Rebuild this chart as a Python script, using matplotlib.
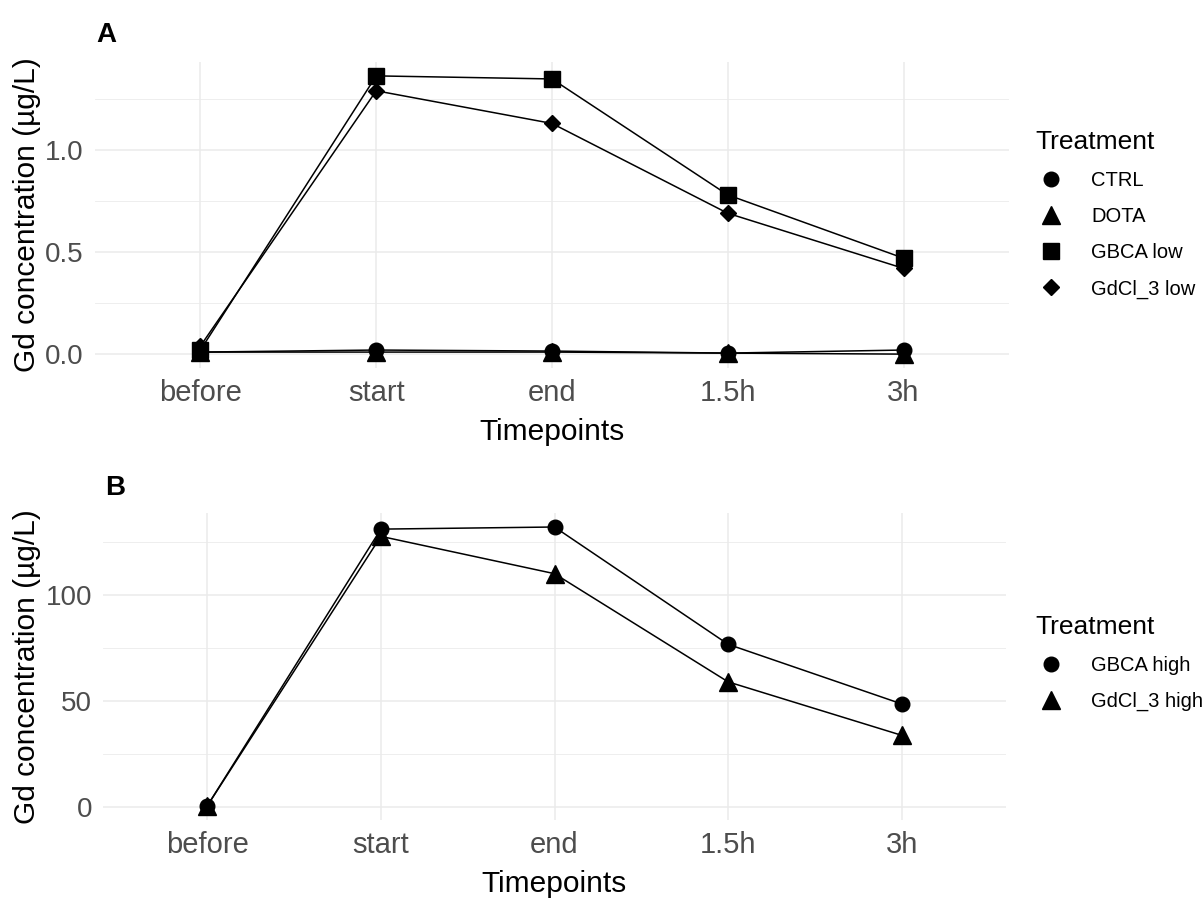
import matplotlib.pyplot as plt
from matplotlib.lines import Line2D

plt.rcParams['font.family'] = ['Liberation Sans', 'DejaVu Sans']

timepoints = ['before', 'start', 'end', '1.5h', '3h']

# panel A (low dose)
ctrl = [0.01, 0.02, 0.015, 0.005, 0.02]
dota = [0.01, 0.01, 0.01, 0.005, 0.0]
gbca_low = [0.02, 1.363, 1.348, 0.78, 0.47]
gdcl3_low = [0.04, 1.29, 1.13, 0.69, 0.42]

# panel B (high dose)
gbca_high = [0.5, 131, 132, 76.7, 48.6]
gdcl3_high = [0.5, 127.6, 110, 59, 33.8]

W, H = 1203, 898
fig = plt.figure(figsize=(W / 100, H / 100), dpi=100)


def px_axes(left, top, right, bottom):
    return fig.add_axes([left / W, 1 - bottom / H, (right - left) / W, (bottom - top) / H])


def style(ax, major, minor):
    ax.set_facecolor('white')
    for s in ax.spines.values():
        s.set_visible(False)
    ax.set_yticks(major)
    ax.set_yticks(minor, minor=True)
    ax.grid(True, which='major', color='#EBEBEB', linewidth=1.1)
    ax.grid(True, which='minor', axis='y', color='#EBEBEB', linewidth=0.6)
    ax.tick_params(which='both', length=0)
    ax.tick_params(axis='x', labelsize=21, labelcolor='#4D4D4D', pad=8)
    ax.tick_params(axis='y', labelsize=20, labelcolor='#4D4D4D', pad=8)
    ax.set_axisbelow(True)
    ax.set_xlim(-0.6, len(timepoints) - 0.4)
    ax.set_xticks(range(len(timepoints)))
    ax.set_xticklabels(timepoints)
    ax.set_xlabel('Timepoints', fontsize=21.5, labelpad=8)
    ax.set_ylabel('Gd concentration (µg/L)', fontsize=21.5, labelpad=3)


def add_legend(names, markers, title_top, left):
    handles = [Line2D([], [], color='black', linestyle='none', marker=m, markersize=ms)
               for m, ms in markers]
    leg = fig.legend(handles, names, title='Treatment', loc='upper left',
                     bbox_to_anchor=(left / W, 1 - title_top / H), frameon=False,
                     fontsize=14.5, title_fontsize=19, labelspacing=0.85,
                     handletextpad=1.2, handlelength=1.6, borderaxespad=0,
                     borderpad=0)
    leg._legend_box.align = 'left'
    return leg


x = list(range(len(timepoints)))

# ---- Panel A
axA = px_axes(95, 62, 1009, 368)
markersA = [('o', 10.5), ('^', 13.5), ('s', 11), ('D', 8)]
namesA = ['CTRL', 'DOTA', 'GBCA low', 'GdCl_3 low']
for vals, (m, ms) in zip([ctrl, dota, gbca_low, gdcl3_low], markersA):
    axA.plot(x, vals, color='black', linewidth=1.1, marker=m, markersize=ms)
style(axA, [0.0, 0.5, 1.0], [0.25, 0.75, 1.25])
axA.set_yticklabels(['0.0', '0.5', '1.0'])
axA.set_ylim(-0.068, 1.431)
add_legend(namesA, markersA, 130, 1035)
fig.text(96 / W, 1 - 35 / H, 'A', fontsize=20, fontweight='bold', va='center', ha='left')

# ---- Panel B
axB = px_axes(103, 513, 1006, 820)
markersB = [('o', 10.5), ('^', 13.5)]
namesB = ['GBCA high', 'GdCl_3 high']
for vals, (m, ms) in zip([gbca_high, gdcl3_high], markersB):
    axB.plot(x, vals, color='black', linewidth=1.1, marker=m, markersize=ms)
style(axB, [0, 50, 100], [25, 75, 125])
axB.set_ylim(-6.1, 138.6)
add_legend(namesB, markersB, 615, 1035)
fig.text(105 / W, 1 - 488 / H, 'B', fontsize=20, fontweight='bold', va='center', ha='left')

plt.savefig('out.png', dpi=100)
